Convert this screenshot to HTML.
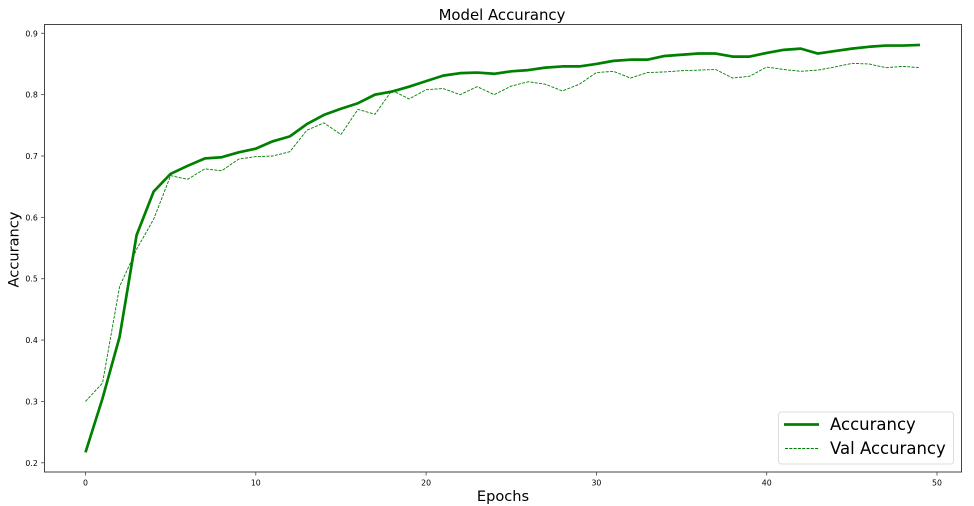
<!DOCTYPE html>
<html lang="en">
<head>
<meta charset="utf-8">
<title>Model Accurancy</title>
<style>
html,body{margin:0;padding:0;background:#fff;width:974px;height:506px;overflow:hidden}
svg{display:block;filter:blur(0.28px)}
text{font-family:"DejaVu Sans","Liberation Sans",sans-serif;fill:#000}
</style>
</head>
<body>
<svg id="chart" width="974" height="506" viewBox="0 0 974 506" xmlns="http://www.w3.org/2000/svg">
  <text x="502" y="20" font-size="14.9" text-anchor="middle">Model Accurancy</text>
  <g id="grid-ticks"></g>
  <g id="series"></g>
  <rect x="44.5" y="24.5" width="917" height="447.5" fill="none" stroke="#444" stroke-width="1"></rect>
  <text x="503" y="501" font-size="14.6" text-anchor="middle">Epochs</text>
  <text transform="translate(18.5,249.5) rotate(-90)" font-size="14.6" text-anchor="middle">Accurancy</text>
  <g>
    <rect x="778.5" y="412" width="175" height="52" rx="3" fill="#fff" fill-opacity="0.9" stroke="#ddd" stroke-width="1"></rect>
    <line x1="784" x2="819" y1="424.5" y2="424.5" stroke="#008000" stroke-width="2.7"></line>
    <text x="830" y="430" font-size="16.5">Accurancy</text>
    <line x1="785" x2="819" y1="448.5" y2="448.5" stroke="#008000" stroke-width="1" stroke-dasharray="3 1.3"></line>
    <text x="830" y="454" font-size="16.5">Val Accurancy</text>
  </g>
</svg>
<script>
const accurancy = [0.217,0.305,0.405,0.571,0.642,0.671,0.684,0.696,0.698,0.706,0.712,0.724,0.732,0.752,0.767,0.777,0.786,0.800,0.805,0.813,0.822,0.831,0.835,0.836,0.834,0.838,0.840,0.844,0.846,0.846,0.850,0.855,0.857,0.857,0.863,0.865,0.867,0.867,0.862,0.862,0.868,0.873,0.875,0.867,0.871,0.875,0.878,0.880,0.880,0.881];
const valAccurancy = [0.300,0.330,0.487,0.548,0.597,0.668,0.662,0.679,0.676,0.695,0.699,0.700,0.707,0.742,0.754,0.735,0.776,0.768,0.807,0.793,0.808,0.810,0.800,0.813,0.800,0.814,0.821,0.817,0.806,0.817,0.836,0.838,0.827,0.836,0.837,0.839,0.840,0.841,0.827,0.830,0.845,0.841,0.838,0.840,0.845,0.851,0.850,0.844,0.846,0.844];
const xTickValues = [0,10,20,30,40,50];
const yTickValues = [0.2,0.3,0.4,0.5,0.6,0.7,0.8,0.9];

const NS = 'http://www.w3.org/2000/svg';
function xScale(v){ return 85.5 + v * 17.03; }
function yScale(v){ return 462.8 - (v - 0.2) * 613.6; }

const ticks = document.getElementById('grid-ticks');
const seriesGroup = document.getElementById('series');

xTickValues.forEach(function(v){
  const t = document.createElementNS(NS,'line');
  
  
  t.setAttribute('x1', xScale(v)); t.setAttribute('x2', xScale(v));
  t.setAttribute('y1', 472); t.setAttribute('y2', 475.5);
  t.setAttribute('stroke', '#444'); t.setAttribute('stroke-width', '0.8');
  ticks.appendChild(t);
  const l = document.createElementNS(NS,'text');
  
  
  l.setAttribute('x', xScale(v)); l.setAttribute('y', 485.5);
  l.setAttribute('font-size', '7.8'); l.setAttribute('text-anchor', 'middle');
  l.textContent = String(v);
  ticks.appendChild(l);
});

yTickValues.forEach(function(v){
  const t = document.createElementNS(NS,'line');
  
  
  t.setAttribute('x1', 41); t.setAttribute('x2', 44.5);
  t.setAttribute('y1', yScale(v)); t.setAttribute('y2', yScale(v));
  t.setAttribute('stroke', '#444'); t.setAttribute('stroke-width', '0.8');
  ticks.appendChild(t);
  const l = document.createElementNS(NS,'text');
  
  
  l.setAttribute('x', 37.8); l.setAttribute('y', yScale(v) + 3);
  l.setAttribute('font-size', '7.8'); l.setAttribute('text-anchor', 'end');
  l.textContent = v.toFixed(1);
  ticks.appendChild(l);
});

function pathFor(values){
  return values.map(function(v,i){ return (i ? 'L' : 'M') + xScale(i).toFixed(2) + ' ' + yScale(v).toFixed(2); }).join(' ');
}

const accLine = document.createElementNS(NS,'path');


accLine.setAttribute('d', pathFor(accurancy));
accLine.setAttribute('fill', 'none');
accLine.setAttribute('stroke', '#008000');
accLine.setAttribute('stroke-width', '2.7');
accLine.setAttribute('stroke-linejoin', 'round');
seriesGroup.appendChild(accLine);

const valLine = document.createElementNS(NS,'path');


valLine.setAttribute('d', pathFor(valAccurancy));
valLine.setAttribute('fill', 'none');
valLine.setAttribute('stroke', '#008000');
valLine.setAttribute('stroke-width', '0.9');
valLine.setAttribute('stroke-dasharray', '3 1.3');
valLine.setAttribute('stroke-linejoin', 'round');
seriesGroup.appendChild(valLine);
</script>
</body>
</html>
